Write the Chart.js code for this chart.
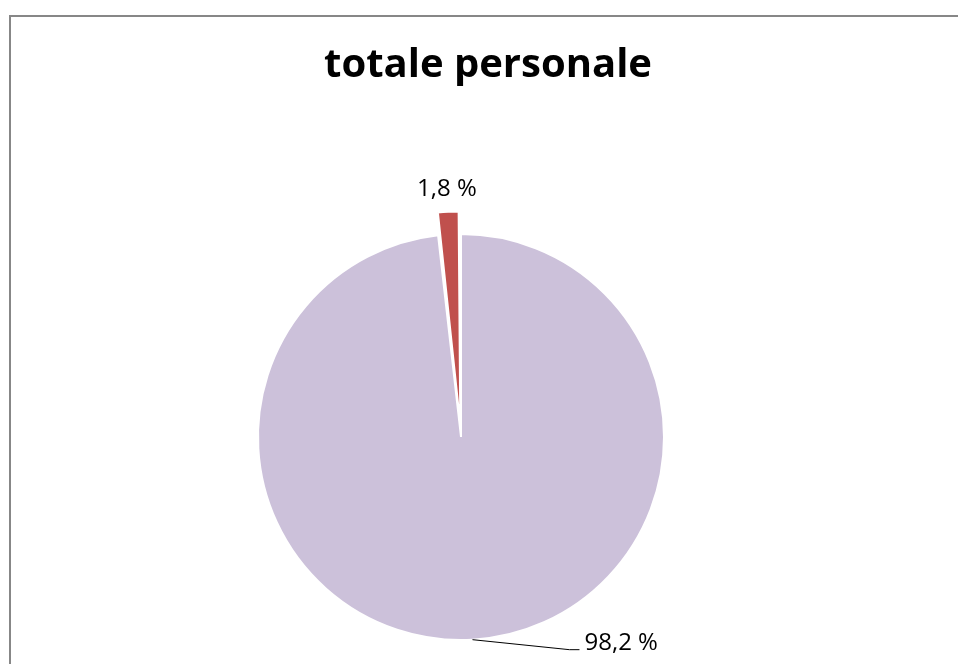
<!DOCTYPE html>
<html>
<head>
<meta charset="utf-8">
<title>totale personale</title>
<script src="https://cdn.jsdelivr.net/npm/chart.js@4/dist/chart.umd.min.js"></script>
<style>
    html, body { margin: 0; padding: 0; background: #ffffff; }
    #wrap { width: 958px; height: 664px; }
</style>
</head>
<body>
<div id="wrap"><canvas id="chart" width="958" height="664"></canvas></div>
<script>
const TITLE = 'totale personale';
const categories = ['categoria 1', 'categoria 2'];
const values = [98.2, 1.8];
const sliceColors = ['#CCC1DA', '#C0504D'];
// Chart.js moves an arc out by offset / 2 (half shift, half radius growth)
const sliceOffsets = [0, 48];

const FONT = '"Open Sans", "DejaVu Sans", sans-serif';

function fmtPct(v) {
    return v.toFixed(1).replace('.', ',') + ' %';
}

// gray frame (top and left edges) plus the title
const framePlugin = {
    id: 'frame',
    beforeDraw(chart) {
        const ctx = chart.ctx;
        ctx.save();
        ctx.strokeStyle = '#878787';
        ctx.lineWidth = 2;
        ctx.beginPath();
        ctx.moveTo(10, chart.height);
        ctx.lineTo(10, 16);
        ctx.lineTo(chart.width, 16);
        ctx.stroke();

        ctx.fillStyle = '#000000';
        ctx.font = 'bold 40px ' + FONT;
        ctx.textAlign = 'center';
        ctx.textBaseline = 'alphabetic';
        ctx.fillText(TITLE, 488, 77);
        ctx.restore();
    }
};

// percentage labels: outside end for the small slice, leader line for the big one
const sliceLabels = {
    id: 'sliceLabels',
    afterDatasetsDraw(chart) {
        const ctx = chart.ctx;
        const arcs = chart.getDatasetMeta(0).data;
        ctx.save();
        ctx.fillStyle = '#000000';
        ctx.font = '24px ' + FONT;

        arcs.forEach((arc, i) => {
            const p = arc.getProps(['x', 'y', 'startAngle', 'endAngle', 'outerRadius'], true);
            const mid = (p.startAngle + p.endAngle) / 2;
            const text = fmtPct(values[i]);
            if (i === 1) {
                const r = p.outerRadius + sliceOffsets[i] / 2 + 21;
                ctx.textAlign = 'center';
                ctx.textBaseline = 'middle';
                ctx.fillText(text, p.x + Math.cos(mid) * r, p.y + Math.sin(mid) * r);
            } else {
                const ex = p.x + Math.cos(mid) * p.outerRadius;
                const ey = p.y + Math.sin(mid) * p.outerRadius;
                ctx.strokeStyle = '#000000';
                ctx.lineWidth = 1;
                ctx.beginPath();
                ctx.moveTo(ex, ey);
                ctx.lineTo(ex + 97, ey + 10);
                ctx.lineTo(ex + 107, ey + 10);
                ctx.stroke();
                ctx.textAlign = 'left';
                ctx.textBaseline = 'alphabetic';
                ctx.fillText(text, ex + 112, ey + 10);
            }
        });
        ctx.restore();
    }
};

new Chart(document.getElementById('chart'), {
    type: 'pie',
    data: {
        labels: categories,
        datasets: [{
            data: values,
            backgroundColor: sliceColors,
            borderColor: '#ffffff',
            borderWidth: 2,
            offset: sliceOffsets
        }]
    },
    options: {
        responsive: false,
        animation: false,
        radius: 203,
        layout: { padding: { top: 210, right: 36, bottom: 0, left: 0 } },
        events: [],
        plugins: {
            legend: { display: false },
            title: { display: false },
            tooltip: { enabled: false }
        }
    },
    plugins: [framePlugin, sliceLabels]
});
</script>
</body>
</html>
